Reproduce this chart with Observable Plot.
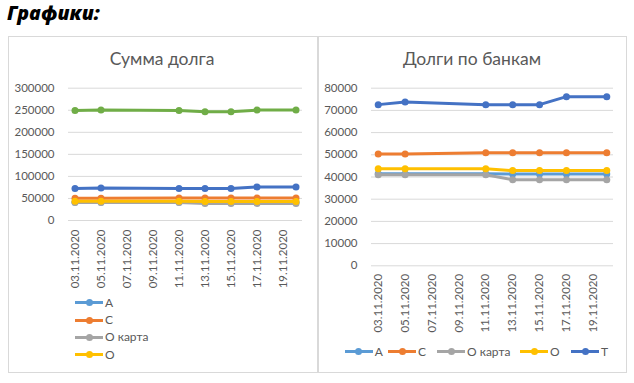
<!DOCTYPE html>
<html><head><meta charset="utf-8">
<script src="https://cdn.jsdelivr.net/npm/d3@7"></script>
<script src="https://cdn.jsdelivr.net/npm/@observablehq/plot@0.6"></script>
<style>
body{margin:0;background:#fff;}
#page{position:relative;width:634px;height:383px;overflow:hidden;font-family:Lato,sans-serif;background:#fff;}
.box{position:absolute;border:1px solid #d9d9d9;box-sizing:border-box;}
.title{position:absolute;left:7px;top:0px;line-height:26px;font-family:"Open Sans",sans-serif;font-weight:800;font-style:italic;font-size:19.5px;color:#000;}
.ctitle{position:absolute;font-size:17.5px;color:#595959;white-space:nowrap;transform:translateX(-50%);}
.plot{position:absolute;}
.leg{position:absolute;font-size:12px;color:#595959;white-space:nowrap;}
.item{position:absolute;height:14px;}
.item .ln{position:absolute;left:0;top:5.5px;width:28px;height:3px;}
.item .dt{position:absolute;left:10.5px;top:3.5px;width:7px;height:7px;border-radius:50%;}
.item .tx{position:absolute;left:30px;top:-1px;line-height:16px;}
</style></head><body><div id="page"></div>
<script>
const dates = ["2020-11-03","2020-11-05","2020-11-11","2020-11-13","2020-11-15","2020-11-17","2020-11-20"];
const seriesNames = ["A","C","O карта","O","T","Сумма"];
const valA = [41500,41500,41500,41300,41300,41300,41300];
const valC = [50400,50400,50900,50900,50900,50900,50900];
const valOk = [41000,41000,41000,38800,38800,38800,38800];
const valO = [43700,43700,43700,42900,42900,42900,42900];
const valT = [72600,73800,72600,72600,72600,76200,76200];
const valSum = [249200,250400,249700,246800,246800,250400,250400];
const colors = ["#5B9BD5","#ED7D31","#A5A5A5","#FFC000","#4472C4","#70AD47"];
const xTickLabels = ["2020-11-03","2020-11-05","2020-11-07","2020-11-09","2020-11-11","2020-11-13","2020-11-15","2020-11-17","2020-11-19"];
const leftYTicks = [0,50000,100000,150000,200000,250000,300000];
const rightYTicks = [0,10000,20000,30000,40000,50000,60000,70000,80000];
const leftTitle = "Сумма долга";
const rightTitle = "Долги по банкам";
const pageTitle = "Графики:";

const parse = d3.utcParse("%Y-%m-%d");
const allVals = [valA,valC,valOk,valO,valT,valSum];
const rows = [];
seriesNames.forEach((s,i)=>dates.forEach((d,j)=>rows.push({series:s, date:parse(d), value:allVals[i][j]})));
const xTicks = xTickLabels.map(parse);
const d0 = new Date(parse(dates[0]).getTime() - 12*3600e3);
const d1 = new Date(parse(dates[dates.length-1]).getTime() + 12*3600e3);
const fmt = d3.utcFormat("%d.%m.%Y");

function chart(names, yTicks, o){
  const marks = [Plot.gridY(yTicks, {stroke:"#d9d9d9", strokeOpacity:1, strokeWidth:1})];
  names.forEach(s=>{
    const data = rows.filter(r=>r.series===s);
    marks.push(Plot.line(data, {x:"date", y:"value", stroke:"series", strokeWidth:3, strokeLinejoin:"round", strokeLinecap:"round"}));
    marks.push(Plot.dot(data, {x:"date", y:"value", fill:"series", r:3.5}));
  });
  marks.push(Plot.axisY(yTicks, {tickSize:0, tickPadding:o.yPad, tickFormat:d=>String(d), fill:"#595959"}));
  marks.push(Plot.axisX(xTicks, {tickSize:0, tickPadding:o.xPad, tickRotate:-90, tickFormat:fmt, fill:"#595959"}));
  return Plot.plot({
    width:o.width, height:336,
    marginLeft:o.ml, marginRight:o.mr, marginTop:o.mt, marginBottom:o.mb,
    style:{fontFamily:"Lato", fontSize:"11.5px", color:"#595959", background:"transparent", overflow:"visible"},
    x:{type:"utc", domain:[d0,d1], label:null},
    y:{domain:[0,yTicks[yTicks.length-1]], label:null},
    color:{domain:seriesNames, range:colors},
    marks
  });
}

const page = document.getElementById("page");
function el(cls, css, text){const e=document.createElement("div"); e.className=cls; Object.assign(e.style, css); if(text!=null) e.textContent=text; page.appendChild(e); return e;}
el("box",{left:"8px",top:"36px",width:"310px",height:"337px"});
el("box",{left:"318px",top:"36px",width:"309px",height:"337px"});
el("title",{}, pageTitle);
el("ctitle",{left:"162px",top:"48px"}, leftTitle);
el("ctitle",{left:"472px",top:"48px"}, rightTitle);

const left = chart(seriesNames, leftYTicks, {width:310, ml:60, mr:16, mt:51.7, mb:152, yPad:14, xPad:9});
left.classList.add("plot"); Object.assign(left.style,{left:"8px",top:"36px"}); page.appendChild(left);
const right = chart(seriesNames.slice(0,5), rightYTicks, {width:309, ml:53, mr:14, mt:51.7, mb:106.7, yPad:14, xPad:8});
right.classList.add("plot"); Object.assign(right.style,{left:"318px",top:"36px"}); page.appendChild(right);

function legItem(name, i, x, y){
  const it = el("item leg",{left:x+"px", top:(y-7)+"px"});
  const ln = document.createElement("div"); ln.className="ln"; ln.style.background=colors[i]; it.appendChild(ln);
  const dt = document.createElement("div"); dt.className="dt"; dt.style.background=colors[i]; it.appendChild(dt);
  const tx = document.createElement("div"); tx.className="tx"; tx.textContent=name; it.appendChild(tx);
}
// left legend (vertical, only first four fit)
[0,1,2,3].forEach((i,k)=>legItem(seriesNames[i], i, 75, 302.7 + k*17.3));
// right legend (horizontal)
const rx = [344.7, 388, 437, 520, 571];
[0,1,2,3,4].forEach((i,k)=>legItem(seriesNames[i], i, rx[k], 351.7));
</script></body></html>
